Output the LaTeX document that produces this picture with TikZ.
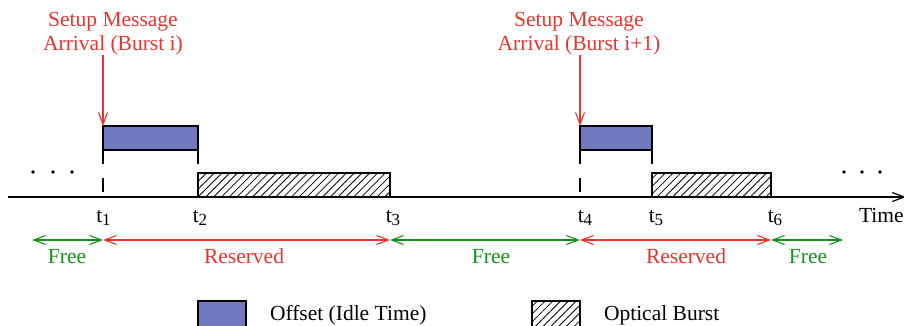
\documentclass[tikz,border=0pt]{standalone}
\usepackage{fontspec}
\setmainfont{Liberation Serif}
\usetikzlibrary{arrows.meta,patterns.meta,calc}

\definecolor{offblue}{RGB}{112,121,190}
\definecolor{resred}{RGB}{232,52,46}
\definecolor{freegreen}{RGB}{22,145,30}

\newcommand{\tlab}[1]{t\raisebox{-0.4ex}{\fontsize{17}{17}\selectfont #1}}

\tikzset{
  >={Straight Barb[length=12pt,width=9pt]},
  every node/.style={font=\fontsize{21.5}{24}\selectfont, inner sep=0pt, outer sep=0pt},
  offsetbox/.style={draw=black, line width=1.3pt, fill=offblue, anchor=north west},
  burstbox/.style={draw=black, line width=1.3pt, anchor=north west,
    pattern={Lines[angle=45,distance=5.5pt,line width=0.8pt]}},
  tickline/.style={line width=1.1pt},
  axisline/.style={line width=1.2pt, ->},
  setuparrow/.style={draw=resred, line width=1.1pt, ->},
  resspan/.style={draw=resred, line width=1.1pt, <->},
  freespan/.style={draw=freegreen, line width=1.1pt, <->},
  setuptext/.style={text=resred, align=center, anchor=south},
  tnode/.style={anchor=base},
  spantext/.style={anchor=base},
  legendtext/.style={anchor=base west}
}

\begin{document}
\begin{tikzpicture}[x=1pt,y=-1pt]
\useasboundingbox (0,0) rectangle (904,325);

% time axis
\coordinate (axstart) at (8,197);
\coordinate (axend) at (906,197);
\draw[axisline] (axstart) -- (axend);
\node[anchor=base west] (time) at (859,222) {Time};

% continuation dots
\foreach \x/\n in {33/l1,53/l2,72/l3,844/r1,862/r2,880/r3}
  \fill (\x,172) circle (1.8pt) coordinate (dot\n);

% burst i: offset and optical burst
\node[offsetbox, minimum width=95pt, minimum height=24pt] (o1) at (103,126) {};
\node[burstbox, minimum width=192pt, minimum height=24pt] (b1) at (198,173) {};
% burst i+1: offset and optical burst
\node[offsetbox, minimum width=72pt, minimum height=24pt] (o2) at (580,126) {};
\node[burstbox, minimum width=119pt, minimum height=24pt] (b2) at (652,173) {};

% markers below the offsets
\foreach \o in {o1,o2}{
  \draw[tickline] (\o.south west) -- ++(0,14);
  \draw[tickline] ($(\o.south west)+(0,28)$) -- ++(0,14);
  \draw[tickline] (\o.south east) -- ++(0,14);
}

% setup message arrivals
\node[setuptext] (s1) at (113,55) {Setup Message\\Arrival (Burst i)};
\node[setuptext] (s2) at (579,55) {Setup Message\\Arrival (Burst i+1)};
\draw[setuparrow] (s1.south -| o1.north west) -- (o1.north west);
\draw[setuparrow] (s2.south -| o2.north west) -- (o2.north west);

% instants
\node[tnode] (t1) at (103.5,222) {\tlab{1}};
\node[tnode] (t2) at (200,222) {\tlab{2}};
\node[tnode] (t3) at (393,222) {\tlab{3}};
\node[tnode] (t4) at (585,222) {\tlab{4}};
\node[tnode] (t5) at (656,222) {\tlab{5}};
\node[tnode] (t6) at (775,222) {\tlab{6}};

% channel state spans
\coordinate (p0) at (32,240);
\coordinate (p1) at (103,240);
\coordinate (p2) at (390,240);
\coordinate (p3) at (580,240);
\coordinate (p4) at (771,240);
\coordinate (p5) at (843,240);
\draw[freespan] (p0) -- (p1);
\draw[resspan] (p1) -- (p2);
\draw[freespan] (p2) -- (p3);
\draw[resspan] (p3) -- (p4);
\draw[freespan] (p4) -- (p5);

\node[spantext, text=freegreen] (free1) at (67,263) {Free};
\node[spantext, text=resred] (res1) at (244,263) {Reserved};
\node[spantext, text=freegreen] (free2) at (491,263) {Free};
\node[spantext, text=resred] (res2) at (686,263) {Reserved};
\node[spantext, text=freegreen] (free3) at (808,263) {Free};

% legend
\node[offsetbox, minimum width=48pt, minimum height=30pt] (legoff) at (198,301) {};
\node[legendtext] (legofftext) at (270,320) {Offset (Idle Time)};
\node[burstbox, minimum width=48pt, minimum height=30pt] (legburst) at (532,301) {};
\node[legendtext] (legbursttext) at (604,320) {Optical Burst};
\end{tikzpicture}
\end{document}
